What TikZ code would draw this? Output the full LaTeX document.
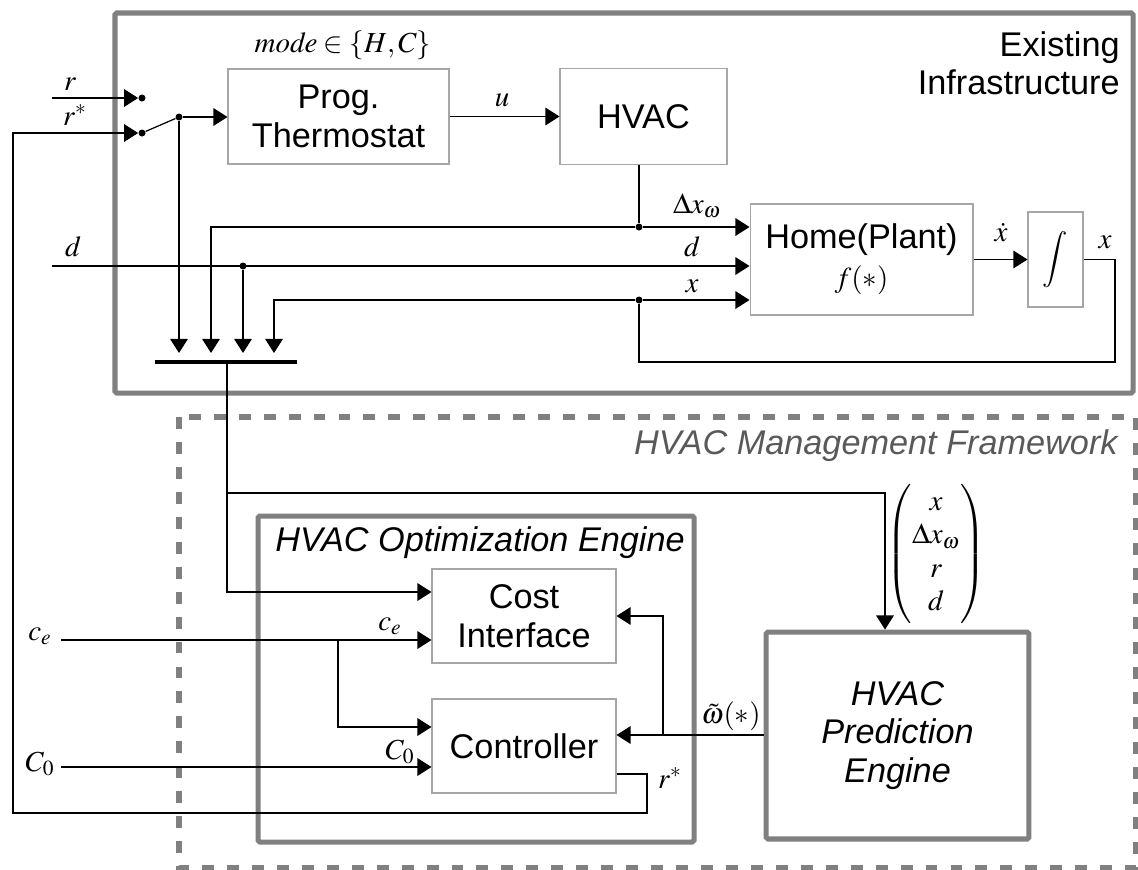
\documentclass[tikz,border=0pt]{standalone}
\usepackage{amsmath}
\usepackage{mathptmx}
\usepackage{fontspec}
\setmainfont{Liberation Sans}
\usetikzlibrary{arrows.meta, positioning, calc}
\definecolor{framegray}{HTML}{808080}
\definecolor{boxgray}{HTML}{A6A6A6}
\definecolor{labelgray}{HTML}{595959}

\begin{document}
\begin{tikzpicture}[x=0.02cm, y=-0.02cm,
    block/.style={draw=boxgray, line width=0.6pt, inner sep=0pt, align=center, font=\fontsize{19.5}{22}\selectfont},
    frame/.style={draw=framegray, line width=2.85pt, rounded corners=1pt},
    mframe/.style={draw=framegray, line width=3.4pt, dash pattern=on 6.8pt off 7.4pt},
    arrow/.style={-{Triangle[length=8pt, width=10pt]}, line width=0.7pt},
    wire/.style={line width=0.7pt},
    dot/.style={circle, fill, inner sep=0pt, minimum size=1.4mm},
    lbl/.style={font=\fontsize{16.5}{19}\selectfont, inner sep=0pt},
    title/.style={font=\fontsize{19.5}{21.5}\selectfont, inner sep=0pt, align=right}
  ]
  \useasboundingbox (0,0) rectangle (1138,869);

  % --- EXISTING INFRASTRUCTURE ---
  \draw[frame] (115,13) rectangle (1133,393);
  \node[title, anchor=east] (exist) at (1120,63) {Existing\\Infrastructure};

  \node[block, minimum width=4.42cm, minimum height=1.9cm] (thermo) at (338.5,116.5) {Prog.\\Thermostat};
  \node[block, minimum width=3.34cm, minimum height=1.92cm] (hvac) at (643.5,116.5) {HVAC};
  \node[block, minimum width=4.46cm, minimum height=2.22cm] (home) at (861.5,259.5) {Home(Plant)\\{\fontsize{16.5}{18}\selectfont$f(*)$}};
  \node[block, minimum width=1.1cm, minimum height=1.9cm] (integ) at (1055.5,259.5) {\fontsize{16}{18}\selectfont$\displaystyle\int$};

  % switch and inputs
  \coordinate (rin) at (52,98);
  \coordinate (din) at (52,266);
  \node[dot] (sw1) at (142,98) {};
  \node[dot] (sw2) at (142,133) {};
  \node[dot] (piv) at (179,117) {};

  % bus
  \coordinate (busL) at (155,362);
  \coordinate (busR) at (297,362);
  \coordinate (bus) at (227,362);
  \draw[line width=2.3pt] (busL) -- (busR);
  \foreach \i/\x in {1/179,2/211,3/243,4/274}
    \coordinate (b\i) at (\x,353);

  \draw[arrow] (rin) -- (sw1);
  \draw[wire] (sw2) -- (piv);
  \draw[arrow] (piv) -- (piv -| thermo.west);
  \draw[arrow] (piv) -- (b1);
  \draw[arrow] (thermo.east) -- (hvac.west);

  \node[dot] (dxw) at (639,227) {};
  \node[dot] (dsplit) at (243,266) {};
  \node[dot] (xsplit) at (639,300) {};
  \coordinate (xback) at (1115,362);

  \draw[wire] (hvac.south -| dxw) -- (dxw);
  \draw[arrow] (dxw) -- (dxw -| home.west);
  \draw[arrow] (dxw) -| (b2);
  \draw[arrow] (din) -- (din -| home.west);
  \draw[arrow] (dsplit) -- (b3);
  \draw[arrow] (xsplit) -- (xsplit -| home.west);
  \draw[arrow] (xsplit) -| (b4);
  \draw[arrow] (home.east) -- (integ.west);
  \draw[wire] (integ.east) -| (xback) -| (xsplit);

  \node[lbl] (lr) at (70,84) {$r$};
  \node[lbl] (lrs) at (75,115) {$r^{*}$};
  \node[lbl] (ld) at (73,247) {$d$};
  \node[lbl] (lmode) at (343,45) {$\mathit{mode}\in\{H,C\}$};
  \node[lbl] (lu) at (502,100) {$u$};
  \node[lbl] (ldxw) at (697,206) {$\Delta x_{\omega}$};
  \node[lbl] (ld2) at (692,247) {$d$};
  \node[lbl] (lx) at (692,286) {$x$};
  \node[lbl] (lxdot) at (1001,233) {$\dot{x}$};
  \node[lbl] (lx2) at (1105,242) {$x$};

  % --- HVAC MANAGEMENT FRAMEWORK ---
  \draw[mframe] (179,417) rectangle (1136,868);
  \node[title, font=\fontsize{19.5}{22}\selectfont\itshape, text=labelgray, anchor=east] (mgmt) at (1118,446) {HVAC Management Framework};

  \draw[frame] (258,516) rectangle (694,842);
  \node[title, font=\fontsize{19.5}{22}\selectfont\itshape, anchor=west] (opt) at (275,543) {HVAC Optimization Engine};

  \node[block, minimum width=3.68cm, minimum height=1.88cm] (cost) at (524,616) {Cost\\Interface};
  \node[block, minimum width=3.68cm, minimum height=1.88cm] (ctrl) at (524,746) {Controller};
  \node[frame, minimum width=5.26cm, minimum height=4.14cm, align=center, font=\fontsize{19.5}{22}\selectfont\itshape] (pred) at (897.5,735.5) {HVAC\\Prediction\\Engine};

  \coordinate (busjoin) at (227,493);
  \coordinate (vtop) at (885,493);
  \coordinate (cein) at (61,640);
  \coordinate (cesplit) at (338,640);
  \coordinate (c0in) at (61,767);
  \coordinate (wsplit) at (663,735);
  \coordinate (rsout) at (647,813);
  \coordinate (rsleft) at (13,813);

  \draw[wire] (bus) -- (busjoin);
  \draw[arrow] (busjoin) -- (vtop) -- (vtop |- pred.north);
  \draw[arrow] (busjoin) |- (cost.west |- 0,592);
  \draw[arrow] (cein) -- (cein -| cost.west);
  \draw[arrow] (cesplit) |- (ctrl.west |- 0,727);
  \draw[arrow] (c0in) -- (c0in -| ctrl.west);
  \draw[arrow] (pred.west |- wsplit) -- (ctrl.east |- wsplit);
  \draw[arrow] (wsplit) |- (cost.east);
  \draw[arrow] (ctrl.east |- 0,774) -| (rsout) -- (rsleft) |- (sw2);

  \node[lbl] (lvec) at (936,554) {$\begin{pmatrix} x\\ \Delta x_{\omega}\\ r\\ d \end{pmatrix}$};
  \node[lbl] (lw) at (731,716) {$\tilde{\omega}(*)$};
  \node[lbl] (lrs2) at (670,778) {$r^{*}$};
  \node[lbl] (lce) at (40,636) {$c_{e}$};
  \node[lbl] (lce2) at (390,626) {$c_{e}$};
  \node[lbl] (lc0) at (40,764) {$C_{0}$};
  \node[lbl] (lc02) at (400,752) {$C_{0}$};
\end{tikzpicture}
\end{document}
